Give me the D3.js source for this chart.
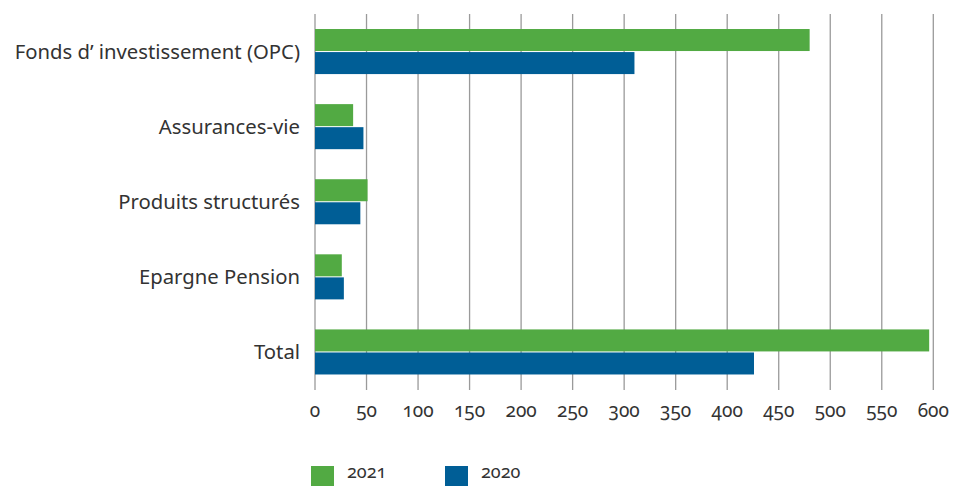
<!DOCTYPE html>
<html><head><meta charset="utf-8">
<script src="https://cdn.jsdelivr.net/npm/d3@7"></script>
<style>
body{margin:0;background:#fff;}
text{font-family:"Noto Sans","Open Sans",sans-serif;fill:#333;}
.num{font-variant-numeric:oldstyle-nums;font-feature-settings:"onum" 1;}
</style></head><body>
<svg id="c" width="955" height="486"></svg>
<script>
const categories = ["Fonds d\u2019 investissement (OPC)", "Assurances-vie", "Produits structurés", "Epargne Pension", "Total"];
const series = ["2021", "2020"];
const values2021 = [480, 37, 51, 26, 596];
const values2020 = [310, 47, 44, 28, 426];
const tickValues = [0, 50, 100, 150, 200, 250, 300, 350, 400, 450, 500, 550, 600];
const colors = ["#52AA43", "#005E96"];

const svg = d3.select("#c");
const x = d3.scaleLinear().domain([0, 600]).range([315, 933.3]);
const y = d3.scaleBand().domain(categories).range([14, 389.5]).paddingInner(0.4).paddingOuter(0.2);
const inner = d3.scaleBand().domain(series).range([0, y.bandwidth()]).paddingInner(0.045);

// grid
svg.append("g").selectAll("line").data(tickValues).join("line")
  .attr("x1", d => x(d)).attr("x2", d => x(d))
  .attr("y1", 14).attr("y2", 390)
  .attr("stroke", "#9a9a9a").attr("stroke-width", 1.3);

const data = categories.map((c, i) => ({c, vals: [values2021[i], values2020[i]]}));
const g = svg.append("g");
data.forEach(d => {
  d.vals.forEach((v, j) => {
    g.append("rect")
      .attr("x", x(0)).attr("y", y(d.c) + inner(series[j]))
      .attr("width", x(v) - x(0)).attr("height", inner.bandwidth())
      .attr("fill", colors[j]);
  });
});

// category labels
svg.append("g").selectAll("text").data(categories).join("text")
  .attr("x", 300).attr("y", d => y(d) + y.bandwidth() / 2)
  .attr("dy", "0.35em").attr("text-anchor", "end")
  .attr("font-size", 20.3).text(d => d);

// tick labels
svg.append("g").selectAll("text").data(tickValues).join("text")
  .attr("class", "num")
  .attr("x", d => x(d)).attr("y", 410).attr("dy", "0.35em")
  .attr("text-anchor", "middle").attr("font-size", 19).text(d => d);

// legend
const leg = svg.append("g");
const legX = [311, 445];
series.forEach((s, i) => {
  leg.append("rect").attr("x", legX[i]).attr("y", 466).attr("width", 23).attr("height", 20).attr("fill", colors[i]);
  leg.append("text").attr("class", "num").attr("x", legX[i] + 36).attr("y", 478)
    .attr("font-size", 18).text(s);
});
</script>
</body></html>
